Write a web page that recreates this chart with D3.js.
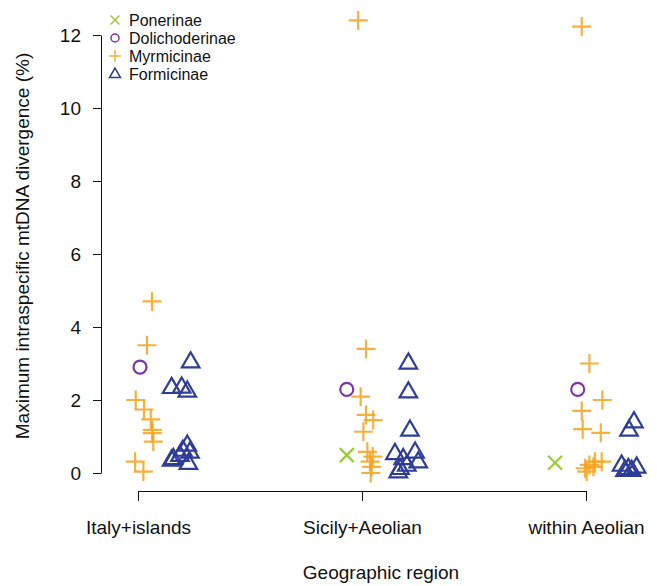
<!DOCTYPE html>
<html>
<head>
<meta charset="utf-8">
<script src="https://cdn.jsdelivr.net/npm/d3@7"></script>
<style>
  body { margin: 0; background: #fff; }
  text { font-family: "Liberation Sans", Arial, sans-serif; fill: #111; }
  .axis text { font-size: 19px; fill: #111; }
  .axis path, .axis line { stroke: #111; }
</style>
</head>
<body>
<div id="vis"></div>
<script>
// groups on the x axis
var regions = ["Italy+islands", "Sicily+Aeolian", "within Aeolian"];
var yTicks = [0, 2, 4, 6, 8, 10, 12];
var subfamilies = ["Ponerinae", "Dolichoderinae", "Myrmicinae", "Formicinae"];

// points: x = jittered group position, y = divergence (%)
var ponerinae = [
  [1.932, 0.49], [2.862, 0.28]
];
var dolichoderinae = [
  [1.009, 2.9], [1.932, 2.29], [2.963, 2.29]
];
var myrmicinae = [
  [1.0625, 4.7], [1.04, 3.5], [0.99, 2.0], [1.027, 1.74], [1.057, 1.47],
  [1.064, 1.18], [1.064, 1.09], [1.068, 0.86], [0.987, 0.31], [1.024, 0.04],
  [1.983, 12.4], [2.018, 3.4], [1.994, 2.09], [2.018, 1.59], [2.05, 1.45],
  [2.006, 1.13], [2.024, 0.58], [2.048, 0.45], [2.036, 0.31], [2.043, 0.17], [2.039, 0.0],
  [2.981, 12.23], [3.015, 3.0], [3.073, 2.0], [2.981, 1.7], [2.985, 1.2], [3.066, 1.1],
  [2.996, 0.13], [3.015, 0.22], [3.04, 0.31], [3.07, 0.31], [3.003, 0.04], [3.033, 0.17]
];
var formicinae = [
  [1.235, 3.05], [1.15, 2.35], [1.195, 2.36], [1.22, 2.25], [1.22, 0.77],
  [1.20, 0.63], [1.232, 0.58], [1.158, 0.4], [1.1875, 0.49], [1.225, 0.27], [1.15, 0.36],
  [2.207, 3.02], [2.207, 2.23], [2.214, 1.18], [2.147, 0.54], [2.237, 0.58],
  [2.184, 0.4], [2.251, 0.31], [2.17, 0.13], [2.2, 0.22], [2.162, 0.04],
  [3.214, 1.41], [3.192, 1.18], [3.159, 0.22], [3.189, 0.13], [3.226, 0.17],
  [3.204, 0.08], [3.174, 0.08]
];

var colors = {
  Ponerinae: "#9ccb3b",
  Dolichoderinae: "#7b35a8",
  Myrmicinae: "#f7a21b",
  Formicinae: "#2e3d98"
};

var width = 657, height = 586;

var svg = d3.select("#vis")
  .append("svg")
  .attr("width", width)
  .attr("height", height);

var x = d3.scaleLinear().domain([1, 3]).range([138, 586]);
var y = d3.scaleLinear().domain([0, 12]).range([473, 35]);

// marker shapes
function crossPath(s) {
  return "M" + (-s) + ",0H" + s + "M0," + (-s) + "V" + s;
}
function xPath(s) {
  return "M" + (-s) + "," + (-s) + "L" + s + "," + s + "M" + (-s) + "," + s + "L" + s + "," + (-s);
}
function triPath(w) {
  var h = w * Math.sqrt(3) / 2;
  return "M0," + (-h * 0.62) + "L" + (w / 2) + "," + (h * 0.38) + "L" + (-w / 2) + "," + (h * 0.38) + "Z";
}

function drawMarks(data, name, big) {
  var g = svg.append("g").attr("class", name);
  var sel = g.selectAll(".pt")
    .data(data)
    .enter();
  if (name === "Dolichoderinae") {
    sel.append("circle")
      .attr("cx", function(d) { return big ? x(d[0]) : d[0]; })
      .attr("cy", function(d) { return big ? y(d[1]) : d[1]; })
      .attr("r", big ? 6.5 : 4)
      .attr("fill", "none")
      .attr("stroke", colors[name])
      .attr("stroke-width", big ? 2.2 : 1.5);
    return;
  }
  var p;
  if (name === "Myrmicinae") p = crossPath(big ? 9.5 : 6);
  else if (name === "Ponerinae") p = xPath(big ? 7 : 4.5);
  else p = triPath(big ? 17.5 : 11);
  sel.append("path")
    .attr("d", p)
    .attr("transform", function(d) {
      return big ? "translate(" + x(d[0]) + "," + y(d[1]) + ")" : "translate(" + d[0] + "," + d[1] + ")";
    })
    .attr("fill", "none")
    .attr("stroke", colors[name])
    .attr("stroke-opacity", name === "Myrmicinae" ? 0.85 : 1)
    .attr("stroke-width", big ? 2.2 : 1.5);
}

drawMarks(ponerinae, "Ponerinae", true);
drawMarks(dolichoderinae, "Dolichoderinae", true);
drawMarks(myrmicinae, "Myrmicinae", true);
drawMarks(formicinae, "Formicinae", true);

// axes
var yAxis = d3.axisLeft(y).tickValues(yTicks).tickSize(8).tickSizeOuter(0).tickPadding(12);
svg.append("g")
  .attr("class", "axis")
  .attr("transform", "translate(101,0)")
  .call(yAxis);

var xAxis = d3.axisBottom(x).tickValues([1, 2, 3])
  .tickFormat(function(d) { return regions[d - 1]; })
  .tickSize(10).tickSizeOuter(0).tickPadding(20);
svg.append("g")
  .attr("class", "axis")
  .attr("transform", "translate(0,491)")
  .call(xAxis);

svg.append("text")
  .attr("x", 381)
  .attr("y", 579)
  .attr("text-anchor", "middle")
  .style("font-size", "19px")
  .text("Geographic region");

svg.append("text")
  .attr("transform", "translate(29,246) rotate(-90)")
  .attr("text-anchor", "middle")
  .style("font-size", "19px")
  .text("Maximum intraspecific mtDNA divergence (%)");

// legend
var legend = svg.append("g").attr("class", "legend");
subfamilies.forEach(function(name, i) {
  var ly = 20 + i * 18;
  drawMarks([[115, ly]], name, false);
  legend.append("text")
    .attr("x", 129)
    .attr("y", ly + 5.5)
    .style("font-size", "16px")
    .text(name);
});
</script>
</body>
</html>
